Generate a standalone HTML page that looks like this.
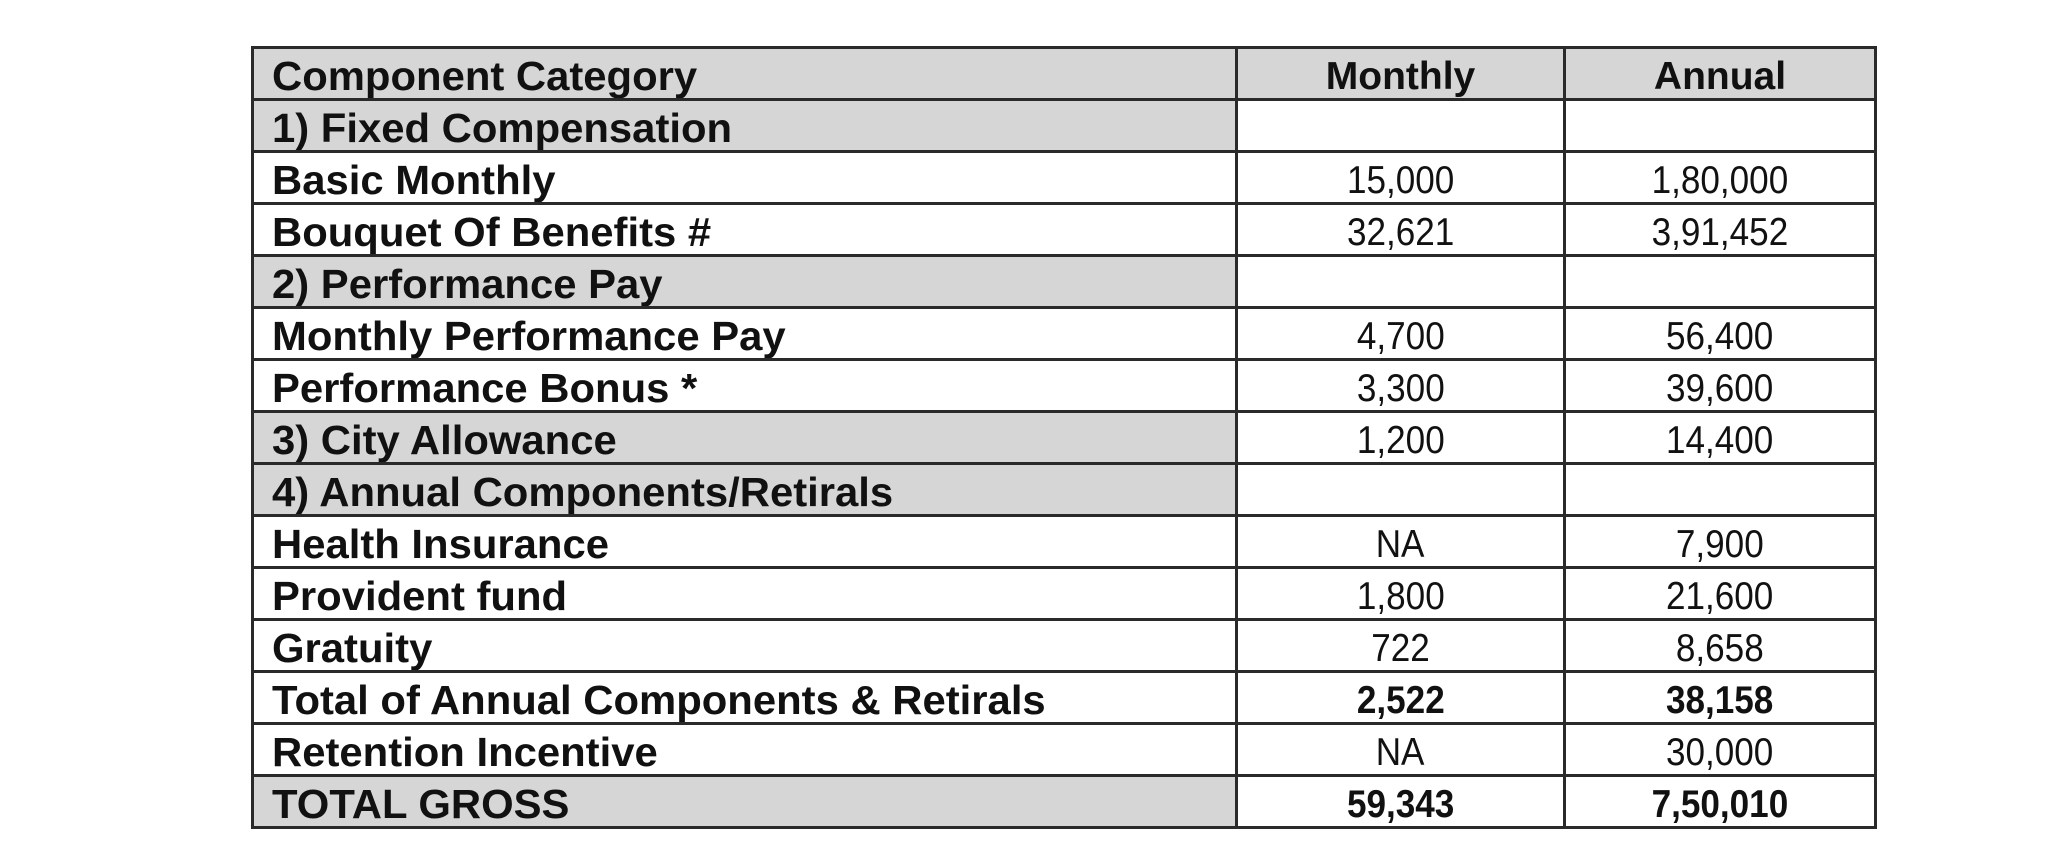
<!DOCTYPE html><html><head><style>
body{margin:0;background:#fff;width:2048px;height:848px;position:relative;overflow:hidden;font-family:"Liberation Sans",Arial,sans-serif;}
table{position:absolute;left:251px;top:46px;border-collapse:collapse;width:1626px;}
td{border:3px solid #2a2a2a;height:49px;padding:0;line-height:49px;color:#111;overflow:hidden;}
td.c{width:963px;font-weight:bold;font-size:41px;padding-left:18px;white-space:nowrap;}
td.m{width:325px;text-align:center;font-size:39px;}
td.a{text-align:center;font-size:39px;}
.g{background:#d6d6d6;}
.b{font-weight:bold;}
.t{display:inline-block;transform:scaleX(1.02) translateY(3px);transform-origin:left center;}
.n{display:inline-block;transform:scaleX(0.9) translateY(3px);}
.h{display:inline-block;transform:translateY(3px);}
</style></head><body>
<table>
<tr class="g"><td class="c"><span class="t">Component Category</span></td><td class="m b"><span class="h">Monthly</span></td><td class="a b"><span class="h">Annual</span></td></tr>
<tr><td class="c g"><span class="t">1) Fixed Compensation</span></td><td class="m"></td><td class="a"></td></tr>
<tr><td class="c"><span class="t">Basic Monthly</span></td><td class="m"><span class="n">15,000</span></td><td class="a"><span class="n">1,80,000</span></td></tr>
<tr><td class="c"><span class="t">Bouquet Of Benefits #</span></td><td class="m"><span class="n">32,621</span></td><td class="a"><span class="n">3,91,452</span></td></tr>
<tr><td class="c g"><span class="t">2) Performance Pay</span></td><td class="m"></td><td class="a"></td></tr>
<tr><td class="c"><span class="t">Monthly Performance Pay</span></td><td class="m"><span class="n">4,700</span></td><td class="a"><span class="n">56,400</span></td></tr>
<tr><td class="c"><span class="t">Performance Bonus *</span></td><td class="m"><span class="n">3,300</span></td><td class="a"><span class="n">39,600</span></td></tr>
<tr><td class="c g"><span class="t">3) City Allowance</span></td><td class="m"><span class="n">1,200</span></td><td class="a"><span class="n">14,400</span></td></tr>
<tr><td class="c g"><span class="t">4) Annual Components/Retirals</span></td><td class="m"></td><td class="a"></td></tr>
<tr><td class="c"><span class="t">Health Insurance</span></td><td class="m"><span class="n">NA</span></td><td class="a"><span class="n">7,900</span></td></tr>
<tr><td class="c"><span class="t">Provident fund</span></td><td class="m"><span class="n">1,800</span></td><td class="a"><span class="n">21,600</span></td></tr>
<tr><td class="c"><span class="t">Gratuity</span></td><td class="m"><span class="n">722</span></td><td class="a"><span class="n">8,658</span></td></tr>
<tr><td class="c"><span class="t">Total of Annual Components &amp; Retirals</span></td><td class="m b"><span class="n">2,522</span></td><td class="a b"><span class="n">38,158</span></td></tr>
<tr><td class="c"><span class="t">Retention Incentive</span></td><td class="m"><span class="n">NA</span></td><td class="a"><span class="n">30,000</span></td></tr>
<tr><td class="c g"><span class="t">TOTAL GROSS</span></td><td class="m b"><span class="n">59,343</span></td><td class="a b"><span class="n">7,50,010</span></td></tr>
</table>
</body></html>
